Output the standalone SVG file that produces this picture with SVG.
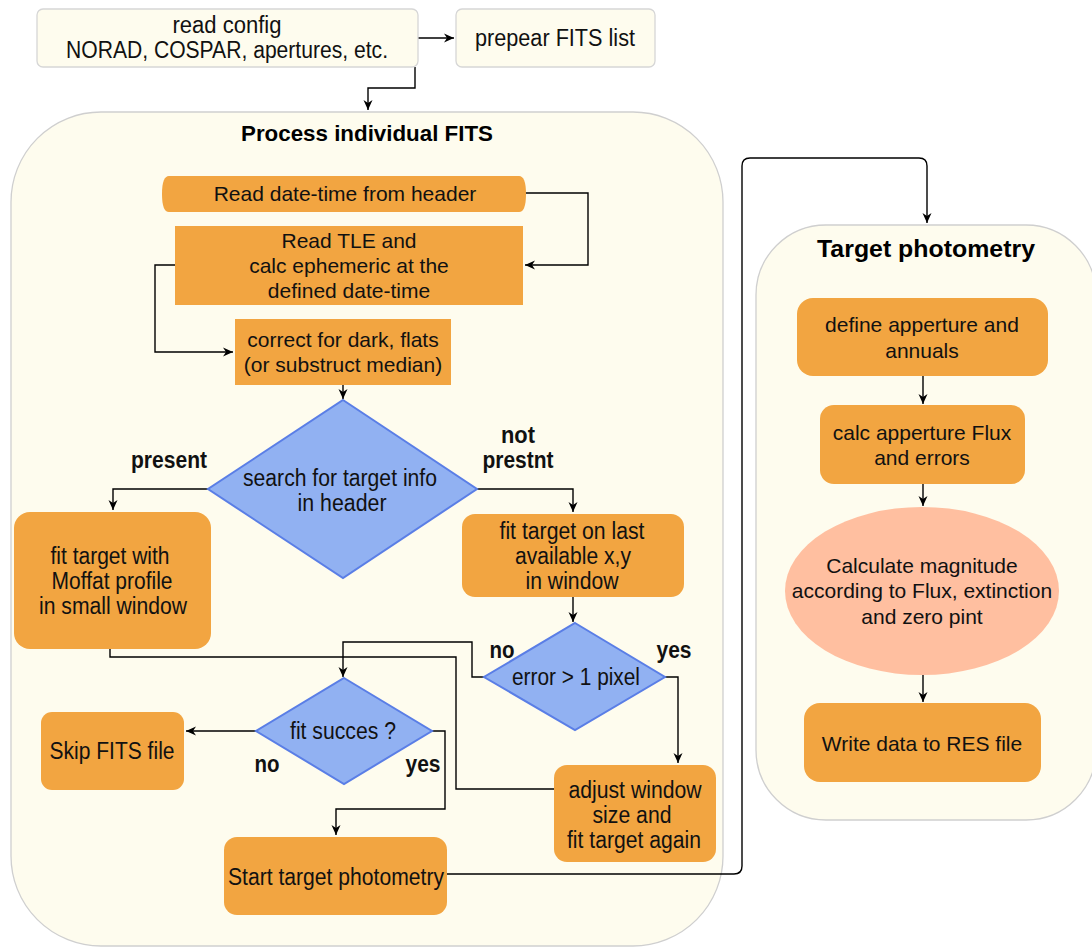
<svg xmlns="http://www.w3.org/2000/svg" width="1092" height="947" viewBox="0 0 1092 947">
<defs>
<marker id="ah" markerUnits="userSpaceOnUse" markerWidth="11" markerHeight="10" refX="10" refY="5" orient="auto">
<path d="M0,0.5 L10,5 L0,9.5 L3,5 Z" fill="#000"/>
</marker>
<style>
.cont{fill:#fefcee;stroke:#cfcfcf;stroke-width:1.3}
.top{fill:#fefcee;stroke:#d6d6d6;stroke-width:1.3}
.or{fill:#f2a541}
.dia{fill:#91b1f2;stroke:#5a7ee6;stroke-width:2}
.ell{fill:#ffbfa0}
.t{font-family:"Liberation Sans",Arial,sans-serif;font-size:21px;fill:#111;text-anchor:middle}
.n{font-family:"Liberation Sans Narrow","Liberation Sans",Arial,sans-serif;font-size:23px;fill:#111;text-anchor:middle}
.b{font-weight:bold}
.ttl{font-family:"Liberation Sans",Arial,sans-serif;font-weight:bold;fill:#000;text-anchor:middle}
.c{fill:none;stroke:#000;stroke-width:1.4}
</style>
</defs>
<rect width="1092" height="947" fill="#fff"/>

<g id="container-process">
<rect class="cont" x="11" y="112" width="712" height="834" rx="90" ry="90"/>
<text class="ttl" x="367" y="141" style="font-size:22.5px" textLength="252" lengthAdjust="spacingAndGlyphs">Process individual FITS</text>
</g>
<g id="container-photometry">
<rect class="cont" x="756" y="225" width="340" height="595" rx="70" ry="70"/>
<text class="ttl" x="926" y="257" style="font-size:24.5px" textLength="218" lengthAdjust="spacingAndGlyphs">Target photometry</text>
</g>

<g id="connectors">
<path class="c" d="M418,38 H454" marker-end="url(#ah)"/>
<path class="c" d="M415,67 V88 H368 V110" marker-end="url(#ah)"/>
<path class="c" d="M525,193 H588 V265 H525" marker-end="url(#ah)"/>
<path class="c" d="M175,265 H155 V352 H233" marker-end="url(#ah)"/>
<path class="c" d="M343,385 V399" marker-end="url(#ah)"/>
<path class="c" d="M208,489 H113 V510" marker-end="url(#ah)"/>
<path class="c" d="M477,489 H573 V512" marker-end="url(#ah)"/>
<path class="c" d="M573,597 V622" marker-end="url(#ah)"/>
<path class="c" d="M484,677 H472 V642 H343 V677" marker-end="url(#ah)"/>
<path class="c" d="M110,649 V657 H456 V789 H554"/>
<path class="c" d="M665,677 H678 V763" marker-end="url(#ah)"/>
<path class="c" d="M256,731 H186" marker-end="url(#ah)"/>
<path class="c" d="M432,731 H445 V809 H336 V835" marker-end="url(#ah)"/>
<path class="c" d="M447,874 H734 Q742,874 742,866 V166 Q742,158 750,158 H919 Q927,158 927,166 V223" marker-end="url(#ah)"/>
<path class="c" d="M923,376 V404" marker-end="url(#ah)"/>
<path class="c" d="M923,484 V506" marker-end="url(#ah)"/>
<path class="c" d="M923,675 V702" marker-end="url(#ah)"/>
</g>

<g id="n-readconfig">
<rect class="top" x="37" y="9" width="381" height="58" rx="6"/>
<text class="n" x="227" y="33" textLength="109" lengthAdjust="spacingAndGlyphs">read config</text>
<text class="n" x="227" y="58" textLength="322" lengthAdjust="spacingAndGlyphs">NORAD, COSPAR, apertures, etc.</text>
</g>
<g id="n-prepear">
<rect class="top" x="456" y="9" width="199" height="58" rx="6"/>
<text class="n" x="555" y="46" textLength="160" lengthAdjust="spacingAndGlyphs">prepear FITS list</text>
</g>

<g id="n-readdate">
<path class="or" d="M169,176 H519 Q526,176 526,194 Q526,212 519,212 H169 Q162,212 162,194 Q162,176 169,176 Z"/>
<text class="t" x="345" y="201">Read date-time from header</text>
</g>
<g id="n-readtle">
<rect class="or" x="175" y="226" width="348" height="79"/>
<text class="t" x="349" y="248">Read TLE and</text>
<text class="t" x="349" y="273">calc ephemeric at the</text>
<text class="t" x="349" y="298">defined date-time</text>
</g>
<g id="n-correct">
<rect class="or" x="235" y="319" width="216" height="66"/>
<text class="t" x="343" y="347">correct for dark, flats</text>
<text class="t" x="343" y="372">(or substruct median)</text>
</g>
<g id="n-search">
<polygon class="dia" points="343,400 477,489 343,578 208,489"/>
<text class="n" x="340" y="486" textLength="194" lengthAdjust="spacingAndGlyphs">search for target info</text>
<text class="n" x="342" y="511" textLength="89" lengthAdjust="spacingAndGlyphs">in header</text>
</g>
<g id="labels-search">
<text class="n b" x="169" y="468" textLength="76" lengthAdjust="spacingAndGlyphs">present</text>
<text class="n b" x="518" y="443" textLength="34" lengthAdjust="spacingAndGlyphs">not</text>
<text class="n b" x="518" y="468" textLength="71" lengthAdjust="spacingAndGlyphs">prestnt</text>
</g>
<g id="n-fitmoffat">
<rect class="or" x="14" y="512" width="197" height="137" rx="16"/>
<text class="n" x="110" y="564" textLength="119" lengthAdjust="spacingAndGlyphs">fit target with</text>
<text class="n" x="112" y="589" textLength="121" lengthAdjust="spacingAndGlyphs">Moffat profile</text>
<text class="n" x="113" y="614" textLength="148" lengthAdjust="spacingAndGlyphs">in small window</text>
</g>
<g id="n-fitlast">
<rect class="or" x="462" y="514" width="222" height="83" rx="13"/>
<text class="n" x="572" y="539" textLength="145" lengthAdjust="spacingAndGlyphs">fit target on last</text>
<text class="n" x="573" y="564" textLength="116" lengthAdjust="spacingAndGlyphs">available x,y</text>
<text class="n" x="572" y="589" textLength="93" lengthAdjust="spacingAndGlyphs">in window</text>
</g>
<g id="n-error">
<polygon class="dia" points="575,623 665,677 575,730 484,677"/>
<text class="n" x="576" y="685" textLength="128" lengthAdjust="spacingAndGlyphs">error &gt; 1 pixel</text>
<text class="n b" x="502" y="658" textLength="25" lengthAdjust="spacingAndGlyphs">no</text>
<text class="n b" x="674" y="658" textLength="35" lengthAdjust="spacingAndGlyphs">yes</text>
</g>
<g id="n-fitsucces">
<polygon class="dia" points="344,678 432,731 344,784 256,731"/>
<text class="n" x="343" y="739" textLength="106" lengthAdjust="spacingAndGlyphs">fit succes ?</text>
<text class="n b" x="267" y="772" textLength="25" lengthAdjust="spacingAndGlyphs">no</text>
<text class="n b" x="423" y="772" textLength="35" lengthAdjust="spacingAndGlyphs">yes</text>
</g>
<g id="n-skip">
<rect class="or" x="41" y="712" width="143" height="78" rx="11"/>
<text class="n" x="112" y="759" textLength="125" lengthAdjust="spacingAndGlyphs">Skip FITS file</text>
</g>
<g id="n-adjust">
<rect class="or" x="554" y="765" width="162" height="97" rx="13"/>
<text class="n" x="635" y="798" textLength="133" lengthAdjust="spacingAndGlyphs">adjust window</text>
<text class="n" x="632" y="823" textLength="79" lengthAdjust="spacingAndGlyphs">size and</text>
<text class="n" x="634" y="848" textLength="134" lengthAdjust="spacingAndGlyphs">fit target again</text>
</g>
<g id="n-start">
<rect class="or" x="224" y="837" width="223" height="78" rx="13"/>
<text class="n" x="336" y="885" textLength="216" lengthAdjust="spacingAndGlyphs">Start target photometry</text>
</g>

<g id="n-define">
<rect class="or" x="797" y="298" width="251" height="78" rx="16"/>
<text class="t" x="922" y="332">define apperture and</text>
<text class="t" x="922" y="358">annuals</text>
</g>
<g id="n-calcflux">
<rect class="or" x="820" y="405" width="205" height="79" rx="14"/>
<text class="t" x="922" y="440">calc apperture Flux</text>
<text class="t" x="922" y="465">and errors</text>
</g>
<g id="n-magnitude">
<ellipse class="ell" cx="922" cy="591" rx="137" ry="84"/>
<text class="t" x="922" y="573">Calculate magnitude</text>
<text class="t" x="922" y="598">according to Flux, extinction</text>
<text class="t" x="922" y="624">and zero pint</text>
</g>
<g id="n-write">
<rect class="or" x="804" y="703" width="237" height="79" rx="16"/>
<text class="t" x="922" y="751">Write data to RES file</text>
</g>
</svg>
